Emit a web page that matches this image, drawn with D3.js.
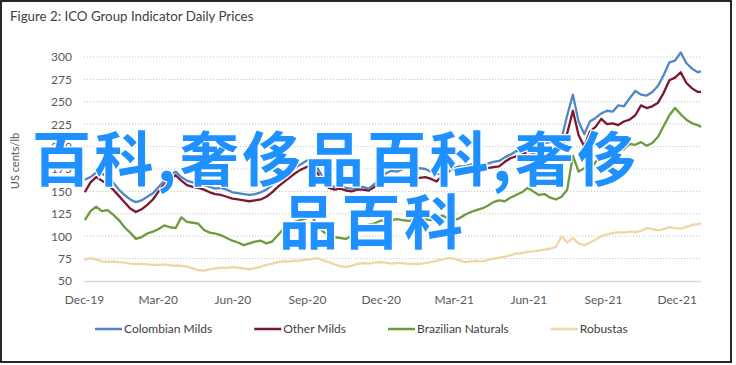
<!DOCTYPE html>
<html>
<head>
<meta charset="utf-8">
<script src="https://cdn.jsdelivr.net/npm/d3@7"></script>
<style>
body { margin: 0; background: #fff; }
svg { display: block; }
</style>
</head>
<body>
<div id="chart"></div>
<script>
'use strict'

const title = "Figure 2: ICO Group Indicator Daily Prices"
const yLabel = "US cents/lb"
const seriesNames = ["Colombian Milds", "Other Milds", "Brazilian Naturals", "Robustas"]
const seriesColors = ["#4f86c6", "#7b1730", "#6b9b3b", "#efd6a4"]
const xTickLabels = ["Dec-19", "Mar-20", "Jun-20", "Sep-20", "Dec-20", "Mar-21", "Jun-21", "Sep-21", "Dec-21"]
const yTicks = [50, 75, 100, 125, 150, 175, 200, 225, 250, 275, 300]
// weekly readings from 2 Dec 2019, last value is 31 Dec 2021
const firstWeek = "2019-12-02"
const lastDay = "2021-12-31"

const colombianMilds = [
	163,166,171,170,166,160,152,146,141,138,
	140,144,148,155,162,168,172,166,162,160,
	158,157,155,153,154,152,149,148,147,146,
	147,149,152,157,161,165,170,176,180,184,
	186,176,165,157,155,156,154,153,154,155,
	153,158,164,170,173,172,175,177,174,176,
	175,172,170,168,172,176,178,178,180,181,
	179,181,183,184,188,191,195,196,200,199,
	202,204,205,207,209,235,258,228,214,228,
	232,237,240,239,246,245,254,262,258,257,
	261,268,280,294,296,305,293,287,283,
	284]
const otherMilds = [
	149,160,166,162,158,152,145,138,131,127,
	130,135,141,150,158,164,168,162,157,155,
	154,152,149,147,146,144,142,141,140,139,
	140,141,144,149,155,160,165,170,174,177,
	179,170,160,154,152,153,151,150,152,152,
	151,155,158,160,161,162,163,163,164,165,
	166,164,161,168,172,176,173,171,173,174,
	175,176,177,178,183,187,189,191,194,193,
	195,196,196,197,198,215,240,213,200,217,
	222,231,225,226,224,228,230,235,246,243,
	245,249,260,274,277,283,271,265,261,
	261]
const brazilianNaturals = [
	118,128,133,128,129,124,118,110,104,97,
	99,103,105,108,112,110,109,121,116,115,
	114,107,104,103,101,98,95,93,90,92,
	94,95,92,94,101,108,113,116,118,120,
	122,112,105,101,99,98,97,100,104,108,
	113,114,117,118,118,119,118,117,118,118,
	119,118,121,123,120,118,120,124,127,129,
	131,134,138,140,139,143,146,149,154,150,
	146,147,143,141,144,152,190,172,176,174,
	183,188,194,196,195,197,203,202,205,201,
	204,211,223,235,243,236,230,226,224,
	222]
const robustas = [
	73.5,75.5,74,72,71.5,72,71,70.5,69.5,69,
	69,68.5,68,68,68.5,67.5,67,67,66,64,
	62,61.5,63,64,65,64.5,65.5,65,64,63,
	64.5,66,68,69.5,71,72,72,72.5,73,74,
	74.5,75.5,73,71,68.5,66.5,65.5,67,69,70,
	69.5,70.5,71,70.5,69.5,70,70,69,69.5,69,
	70,71,72.5,74,75.5,75,73,71,72,72.5,
	72,73.5,75,76,77,79,80.5,81,82.5,83,
	84,85,86,88,100,93,98,92,90,93,
	96,100,102,103.5,104.5,104,105,104.5,106,109,
	108,106.5,108,110,109,108.5,110.5,112.5,113.5,
	114.5]

const overlayLines = ["百科,奢侈品百科,奢侈", "品百科"]

let width = 736
let height = 365
let margin = {left: 84, right: 35, top: 57, bottom: 84}
let dateParse = d3.timeParse("%Y-%m-%d")
let tickParse = d3.timeParse("%b-%y")

let start = dateParse(firstWeek)
let dates = colombianMilds.map(function(d, i){
	if (i == colombianMilds.length - 1) return dateParse(lastDay)
	return d3.timeDay.offset(start, i * 7)
})
let series = [colombianMilds, otherMilds, brazilianNaturals, robustas]

let svg = d3.select("#chart").append("svg")
	.attr("width", width)
	.attr("height", height)
	.style("font-family", "Lato, 'Open Sans', sans-serif")

svg.append("rect").attr("x", 0).attr("y", 0).attr("width", width).attr("height", height).attr("fill", "#fff")
svg.append("rect")
	.attr("x", 1).attr("y", 1)
	.attr("width", 730).attr("height", 361)
	.attr("fill", "none").attr("stroke", "#111").attr("stroke-width", 1.8)

svg.append("text")
	.attr("x", 10).attr("y", 21)
	.attr("font-size", 13.3)
	.attr("fill", "#404040")
	.text(title)

let x = d3.scaleTime()
	.domain([tickParse("Dec-19"), dateParse(lastDay)])
	.range([margin.left, width - margin.right])
let y = d3.scaleLinear()
	.domain([50, 300])
	.range([height - margin.bottom, margin.top])

// grid
svg.append("g").selectAll("line")
	.data(yTicks.filter(function(t){ return t > 50 }))
	.join("line")
	.attr("x1", margin.left).attr("x2", width - margin.right)
	.attr("y1", function(d){ return y(d) }).attr("y2", function(d){ return y(d) })
	.attr("stroke", "#c8c8c8")
	.attr("stroke-width", 1)
	.attr("stroke-dasharray", "1.2,1.8")

let yAxis = svg.append("g")
	.attr("transform", "translate(" + margin.left + ",0)")
	.call(d3.axisLeft(y).tickValues(yTicks).tickSize(0).tickPadding(12))
yAxis.select(".domain").remove()
yAxis.selectAll("text").attr("font-size", 12).attr("fill", "#595959").style("font-family", "Lato, sans-serif")

let xAxis = svg.append("g")
	.attr("transform", "translate(0," + y(50) + ")")
	.call(d3.axisBottom(x).tickValues(xTickLabels.map(tickParse)).tickFormat(d3.timeFormat("%b-%y")).tickSize(0).tickPadding(14))
xAxis.select(".domain").attr("stroke", "#d9d9d9").attr("stroke-width", 1.5)
xAxis.selectAll("text").attr("font-size", 12).attr("fill", "#595959").style("font-family", "Lato, sans-serif")

svg.append("text")
	.attr("transform", "translate(19,161) rotate(-90)")
	.attr("text-anchor", "middle")
	.attr("font-size", 11)
	.attr("fill", "#595959")
	.text(yLabel)

let line = d3.line()
	.x(function(d, i){ return x(dates[i]) })
	.y(function(d){ return y(d) })

// robustas drawn first so the others sit on top
let order = [3, 2, 1, 0]
order.forEach(function(k){
	svg.append("path")
		.datum(series[k])
		.attr("fill", "none")
		.attr("stroke", seriesColors[k])
		.attr("stroke-width", 2.3)
		.attr("stroke-linejoin", "round")
		.attr("d", line)
})

// legend
let legend = svg.append("g").attr("transform", "translate(95,329)")
let lx = 0
seriesNames.forEach(function(name, k){
	legend.append("line")
		.attr("x1", lx).attr("x2", lx + 27)
		.attr("stroke", seriesColors[k]).attr("stroke-width", 2.5)
	let t = legend.append("text")
		.attr("x", lx + 29).attr("dy", "0.35em")
		.attr("font-size", 12).attr("fill", "#404040")
		.text(name)
	lx += 29 + t.node().getComputedTextLength() + 42
})

// overlay watermark
svg.append("g").selectAll("text")
	.data(overlayLines)
	.join("text")
	.attr("x", function(d, i){ return i == 0 ? 32 : 279 })
	.attr("y", function(d, i){ return 181 + i * 63 })
	.attr("font-size", 59)
	.attr("font-weight", 700)
	.attr("letter-spacing", 3.5)
	.style("font-family", "'Noto Sans CJK SC', sans-serif")
	.attr("fill", "#1e90ff")
	.attr("stroke", "#fff")
	.attr("stroke-width", 2.5)
	.attr("paint-order", "stroke")
	.text(function(d){ return d })
</script>
</body>
</html>
